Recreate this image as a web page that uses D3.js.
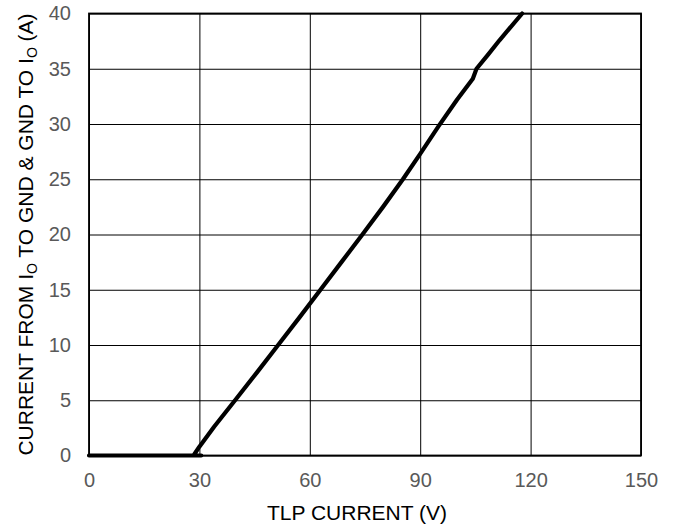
<!DOCTYPE html>
<html>
<head>
<meta charset="utf-8">
<script src="https://cdn.jsdelivr.net/npm/d3@7"></script>
<style>
  body { margin: 0; background: #fff; }
  text { font-family: "Liberation Sans", Arial, sans-serif; }
</style>
</head>
<body>
<script>
// TLP curve, voltage (V) vs current (A)
const tlpVolts = [0, 30.5, 28.4, 30, 34, 39.7, 45.6, 51.4, 57.2, 62.9, 68.6, 74.3, 79.9, 85.3, 90, 95, 100, 104.3, 105.3, 108.5, 111.6, 117.7]
const tlpAmps  = [0, 0,    0,    0.8, 2.6, 5,  7.5,  10,   12.5, 15,   17.5, 20,   22.5, 25,   27.3, 29.8, 32.2, 34.1, 35, 36.3, 37.6, 40]
const xTicks = [0, 30, 60, 90, 120, 150]
const yTicks = [0, 5, 10, 15, 20, 25, 30, 35, 40]

const W = 678, H = 526
const margin = {top: 13.5, right: 37, bottom: 70.5, left: 89}
const w = W - margin.left - margin.right
const h = H - margin.top - margin.bottom

const svg = d3.select("body").append("svg")
    .attr("width", W)
    .attr("height", H)

const g = svg.append("g")
    .attr("transform", `translate(${margin.left},${margin.top})`)

const x = d3.scaleLinear().domain([0, 150]).range([0, w])
const y = d3.scaleLinear().domain([0, 40]).range([h, 0])

// grid + tick labels
const xAxis = g.append("g")
    .attr("transform", `translate(0,${h})`)
    .call(d3.axisBottom(x).tickValues(xTicks).tickSize(-h).tickPadding(17))
const yAxis = g.append("g")
    .call(d3.axisLeft(y).tickValues(yTicks).tickSize(-w).tickPadding(18))

for (const ax of [xAxis, yAxis]) {
    ax.select(".domain").remove()
    ax.selectAll("line").attr("stroke", "#000").attr("stroke-width", 1)
    ax.selectAll("text").attr("fill", "#595959").style("font-size", "20px")
}

// frame
g.append("rect")
    .attr("width", w)
    .attr("height", h)
    .attr("fill", "none")
    .attr("stroke", "#000")
    .attr("stroke-width", 1.8)

const line = d3.line()
    .x((d, i) => x(tlpVolts[i]))
    .y((d, i) => y(tlpAmps[i]))

g.append("path")
    .datum(tlpVolts)
    .attr("d", line)
    .attr("fill", "none")
    .attr("stroke", "#000")
    .attr("stroke-width", 4.2)
    .attr("stroke-linejoin", "round")
    .attr("stroke-linecap", "round")

// axis titles
svg.append("text")
    .attr("x", 357)
    .attr("y", 520)
    .attr("text-anchor", "middle")
    .attr("fill", "#000")
    .style("font-size", "21px")
    .text("TLP CURRENT (V)")

const yl = svg.append("text")
    .attr("transform", `translate(33,${margin.top + h / 2}) rotate(-90)`)
    .attr("text-anchor", "middle")
    .attr("fill", "#000")
    .style("font-size", "21px")
yl.append("tspan").text("CURRENT FROM I")
yl.append("tspan").text("O").attr("dy", 4).style("font-size", "14px")
yl.append("tspan").text(" TO GND & GND TO I").attr("dy", -4)
yl.append("tspan").text("O").attr("dy", 4).style("font-size", "14px")
yl.append("tspan").text(" (A)").attr("dy", -4)
</script>
</body>
</html>
